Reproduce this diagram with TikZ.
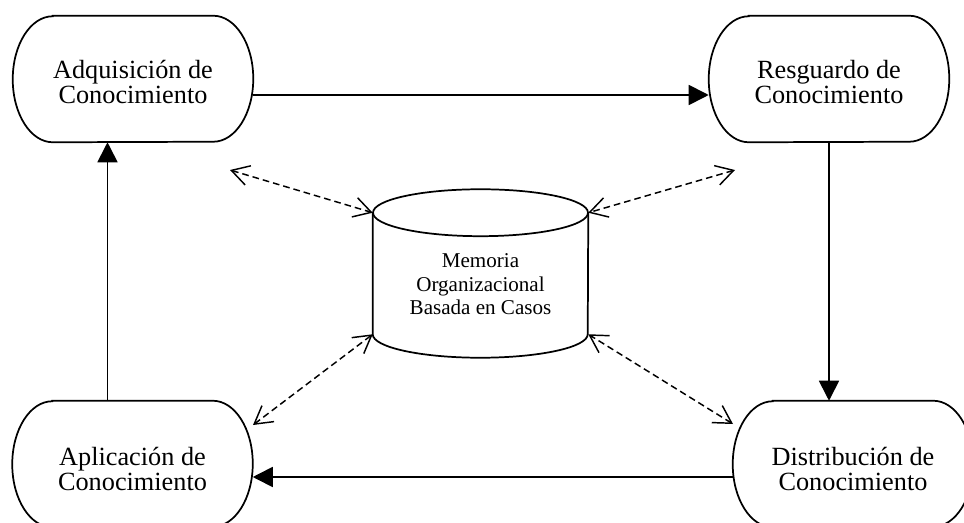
\documentclass[tikz,border=0pt]{standalone}
\usepackage{fontspec}
\setmainfont{Liberation Serif}
\usetikzlibrary{arrows.meta}

% capsule outline with half-elliptical ends around a phase node
\newcommand\capsule[1]{%
  \draw[outline] ([xshift=30pt]#1.north west) -- ([xshift=-30pt]#1.north east)
    arc[start angle=90,end angle=-90,x radius=30pt,y radius=47.25pt]
    -- ([xshift=30pt]#1.south west)
    arc[start angle=270,end angle=90,x radius=30pt,y radius=47.25pt] -- cycle;}

\begin{document}
\begin{tikzpicture}[x=0.75pt,y=0.75pt,
  outline/.style={line width=1.3pt},
  phase/.style={minimum width=180pt,minimum height=94.5pt,inner sep=0pt},
  phasetext/.style={font=\fontsize{19.7}{18.75}\selectfont,align=center,yshift=-2.5pt},
  memtext/.style={font=\fontsize{15.8}{17.6}\selectfont,align=center,yshift=-8pt},
  flow/.style={line width=1.3pt,-{Triangle[length=15pt,width=15pt]}},
  link/.style={line width=1.1pt,dash pattern=on 5pt off 3pt,
    {Straight Barb[length=13pt,width=15pt]}-{Straight Barb[length=13pt,width=15pt]}}]
\useasboundingbox (0,0) rectangle (964,522);
\clip (0,0) rectangle (964,522);

% the four phases
\node[phase,label={[phasetext]center:Adquisición de\\Conocimiento}] (tl) at (133,443) {};
\node[phase,label={[phasetext]center:Resguardo de\\Conocimiento}] (tr) at (829,443) {};
\node[phase,label={[phasetext,yshift=-1.5pt]center:Aplicación de\\Conocimiento}] (bl) at (132.5,58) {};
\node[phase,label={[phasetext,yshift=-1.5pt]center:Distribución de\\Conocimiento}] (br) at (853,58) {};
\capsule{tl}\capsule{tr}\capsule{bl}\capsule{br}

% central repository drawn as a cylinder
\node[minimum width=161.25pt,minimum height=90.75pt,inner sep=0pt,
  label={[memtext]center:Memoria\\Organizacional\\Basada en Casos}] (mem) at (480.5,248.5) {};
\draw[outline] (mem.north) ellipse [x radius=80.625pt,y radius=17.6pt];
\draw[outline] (mem.north west) -- (mem.south west)
  arc[start angle=180,end angle=360,x radius=80.625pt,y radius=17.6pt] -- (mem.north east);

% cycle between the phases
\draw[flow] ([yshift=-12pt]tl.east) -- ([yshift=-12pt]tr.west);
\draw[flow] (tr.south) -- (tr.south |- br.north);
\draw[flow] ([yshift=-9.75pt]br.west) -- ([yshift=-9.75pt]bl.east);
\draw[flow] ([xshift=-18.75pt]bl.north) -- ([xshift=-18.75pt]bl.north |- tl.south);

% exchanges with the repository
\coordinate (qtl) at (230,352);
\coordinate (qtr) at (735,352);
\coordinate (qbl) at (253,97);
\coordinate (qbr) at (733,98);
\draw[link] (qtl) -- (mem.north west);
\draw[link] (qtr) -- (mem.north east);
\draw[link] (qbl) -- (mem.south west);
\draw[link] (qbr) -- (mem.south east);
\end{tikzpicture}
\end{document}
